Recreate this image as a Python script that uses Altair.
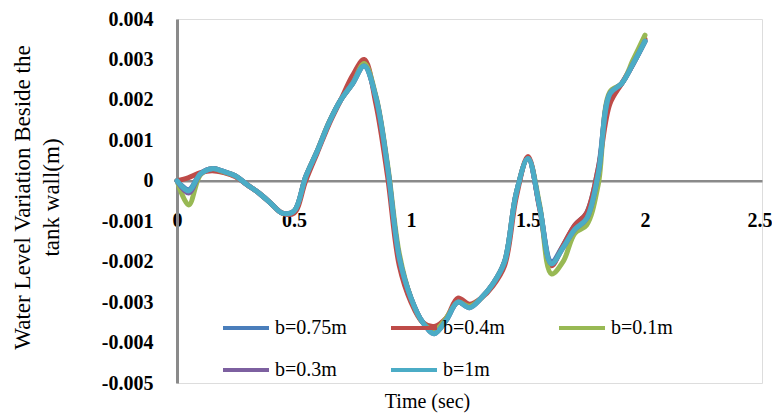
import altair as alt
import pandas as pd

# ---- data ----
time_sec = [0.00, 0.05, 0.10, 0.15, 0.20, 0.25, 0.30, 0.35, 0.40, 0.45,
            0.50, 0.55, 0.60, 0.65, 0.70, 0.75, 0.80, 0.85, 0.90, 0.95,
            1.00, 1.05, 1.10, 1.15, 1.20, 1.25, 1.30, 1.35, 1.40, 1.45,
            1.50, 1.55, 1.60, 1.65, 1.70, 1.75, 1.80, 1.85, 1.90, 1.95, 2.00]

b_075 = [0, -0.00022, 0.00018, 0.0003, 0.00023, 0.00012, -0.0001, -0.0003, -0.00055, -0.0008,
         -0.00076, 0.0001, 0.00075, 0.00145, 0.002, 0.0024, 0.00286, 0.00205, 0.0003, -0.0019,
         -0.0029, -0.0035, -0.00375, -0.00345, -0.003, -0.00312, -0.0029, -0.00255, -0.002, -0.0003,
         0.00055, -0.00066, -0.0020, -0.0016, -0.0011, -0.0008, 0.0003, 0.0021, 0.0024, 0.0029, 0.00345]

b_04 = [0, 0.00008, 0.0002, 0.00025, 0.0002, 0.0001, -0.0001, -0.0003, -0.00055, -0.0008,
        -0.0008, 0.0, 0.0007, 0.0014, 0.002, 0.0026, 0.00300, 0.0019, 0.0001, -0.0021,
        -0.003, -0.0035, -0.0036, -0.0034, -0.0029, -0.00305, -0.0029, -0.0026, -0.0021, -0.0004,
        0.0006, -0.0007, -0.0021, -0.0016, -0.0011, -0.0008, 0.0003, 0.0019, 0.0024, 0.0029, 0.0035]

b_01 = [0, -0.0006, 0.00015, 0.0003, 0.00022, 0.00012, -0.0001, -0.0003, -0.00055, -0.0008,
        -0.00075, 0.0001, 0.00075, 0.00145, 0.002, 0.0024, 0.0029, 0.0021, 0.0004, -0.0018,
        -0.0029, -0.0035, -0.0037, -0.0034, -0.003, -0.0031, -0.0029, -0.00255, -0.002, -0.0003,
        0.00055, -0.0006, -0.0023, -0.0020, -0.0013, -0.0011, -0.0001, 0.0022, 0.0024, 0.003, 0.0036]

b_03 = [0, -0.0003, 0.00017, 0.0003, 0.00023, 0.00012, -0.0001, -0.0003, -0.00055, -0.0008,
        -0.00075, 0.0001, 0.00074, 0.00144, 0.002, 0.0024, 0.00284, 0.00206, 0.00033, -0.0019,
        -0.0029, -0.0035, -0.00378, -0.00345, -0.003, -0.00314, -0.0029, -0.00255, -0.002, -0.0003,
        0.00055, -0.00066, -0.00205, -0.00165, -0.0012, -0.00094, 0.00017, 0.00215, 0.0024, 0.0029, 0.00345]

b_1 = [0, -0.00025, 0.00017, 0.0003, 0.00023, 0.00012, -0.0001, -0.0003, -0.00055, -0.0008,
       -0.00075, 0.0001, 0.00074, 0.00144, 0.002, 0.0024, 0.00284, 0.00206, 0.00033, -0.0019,
       -0.0029, -0.0035, -0.00378, -0.00345, -0.003, -0.00314, -0.0029, -0.00255, -0.002, -0.0003,
       0.00055, -0.00066, -0.00205, -0.00165, -0.0012, -0.00094, 0.00017, 0.00215, 0.0024, 0.0029, 0.00345]

series_names = ["b=0.75m", "b=0.4m", "b=0.1m", "b=0.3m", "b=1m"]
series_values = [b_075, b_04, b_01, b_03, b_1]
series_colors = ["#4a7ebb", "#be4b48", "#98b954", "#7d60a0", "#4bacc6"]

x_ticks = [0, 0.5, 1, 1.5, 2, 2.5]
y_ticks = [-0.005, -0.004, -0.003, -0.002, -0.001, 0, 0.001, 0.002, 0.003, 0.004]

rows = []
for name, vals in zip(series_names, series_values):
    for i, (t, v) in enumerate(zip(time_sec, vals)):
        rows.append({"series": name, "t": t, "v": v, "idx": i})
df = pd.DataFrame(rows)

W, H = 585, 364
FONT = "Liberation Serif"

x_axis = alt.Axis(
    values=x_ticks, orient="bottom", offset=-H * 5 / 9,
    labelExpr="datum.value + ''", labelPadding=30,
    labelFont=FONT, labelFontSize=20, labelFontWeight="bold",
    labelColor="black", labelFlush=False, labelOverlap=False,
    labelAlign={"condition": {"test": "datum.value >= 2.5", "value": "right"}, "value": "center"},
    labelOffset={"condition": {"test": "datum.value >= 2.5", "value": 10}, "value": 0},
    ticks=False, grid=False, domainColor="#8a8a8a", domainWidth=2.5,
    title="Time (sec)", titleFont=FONT, titleFontSize=20,
    titleFontWeight="normal", titleColor="black",
    titleX=250, titleY=221, titleBaseline="middle", titleAlign="center",
)

y_axis = alt.Axis(
    values=y_ticks,
    labelExpr="datum.value == 0 ? '0' : (datum.value < 0 ? '-' : '') + format(abs(datum.value), '.3f')",
    labelPadding=24, labelFont=FONT, labelFontSize=20,
    labelFontWeight="bold", labelColor="black", labelOverlap=False,
    ticks=False, grid=False, domainColor="#8a8a8a", domainWidth=3,
    title=["Water Level Variation Beside the", "tank wall(m)"],
    titleFont=FONT, titleFontSize=23, titleFontWeight="normal",
    titleColor="black", titleAngle=-90, titleX=-166, titleY=178,
    titleBaseline="top", titleAlign="center", titleLineHeight=29,
)

chart = alt.Chart(df).mark_line(
    strokeWidth=5, interpolate="catmull-rom", strokeCap="round", strokeJoin="round"
).encode(
    x=alt.X("t:Q", scale=alt.Scale(domain=[0, 2.5], nice=False, zero=False), axis=x_axis),
    y=alt.Y("v:Q", scale=alt.Scale(domain=[-0.005, 0.004], nice=False, zero=False), axis=y_axis),
    color=alt.Color("series:N",
                    scale=alt.Scale(domain=series_names, range=series_colors),
                    legend=alt.Legend(title=None, orient="none", legendX=44, legendY=284,
                                      direction="horizontal", columns=3, gridAlign="all",
                                      columnPadding=36, rowPadding=7, padding=0,
                                      symbolType="stroke", symbolSize=2116,
                                      symbolStrokeWidth=4, labelOffset=4,
                                      labelFont=FONT, labelFontSize=20, labelColor="black",
                                      labelLimit=200)),
    order=alt.Order("idx:Q"),
).properties(
    width=W, height=H,
    autosize=alt.AutoSizeParams(type="none"),
    padding={"left": 169, "top": 11, "right": 10, "bottom": 31},
).configure_view(stroke=None).configure(background="white")

chart.save("out.html", embed_options={"renderer": "svg", "actions": False})
